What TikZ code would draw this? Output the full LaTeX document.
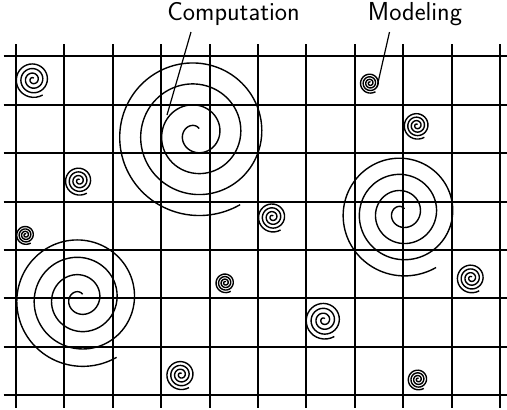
\documentclass[tikz,border=0pt]{standalone}
\usepackage{fontspec}
\begin{document}
\begin{tikzpicture}[x=1pt,y=-1pt,
  gridline/.style={line width=1.8pt,black},
  spiralline/.style={line width=1.4pt,black,line cap=butt},
  leader/.style={line width=1.2pt,black},
  lab/.style={font=\sffamily\fontsize{26}{30}\selectfont,inner sep=0pt,anchor=base}]
\useasboundingbox (0,0) rectangle (507,410);
% grid
\foreach \gx in {16,64,113,161,210,258,306,355,403,452,500}{
  \draw[gridline] (\gx,44) -- (\gx,407.5);
}
\foreach \gy in {56,105,153,202,250,298,347,395}{
  \draw[gridline] (3.5,\gy) -- (507,\gy);
}
% spirals: centre x, centre y, size per turn, samples
\foreach \cx/\cy/\s/\n in {196/134/21/240, 402/213/16.2/200, 80/298.8/17.4/200,
   33/79.5/4.6/120, 370/83/2.6/100, 417/125.5/3.5/110, 79/180.7/3.7/110,
   272.5/217/3.85/110, 25.6/234.8/2.45/100, 225.3/282.7/2.55/100,
   471.2/278/3.8/110, 324/320/4.9/120, 180.9/374.6/3.85/110, 418.1/379.3/2.7/100}{
  \draw[spiralline] plot[smooth,domain=60:1382,samples=\n,variable=\t]
    ({\cx+\s*(0.13+\t/360)*cos(\t)},{\cy-\s*(0.13+\t/360)*sin(\t)});
}
% labels
\node[lab] (comp) at (233.5,20.7) {Computation};
\node[lab] (model) at (415,20.7) {Modeling};
\coordinate (compTop) at (191,32);
\coordinate (compTip) at (167,115);
\coordinate (modelTop) at (389.5,32);
\coordinate (modelTip) at (377,87);
\draw[leader] (compTop) -- (compTip);
\draw[leader] (modelTop) -- (modelTip);
\end{tikzpicture}
\end{document}
